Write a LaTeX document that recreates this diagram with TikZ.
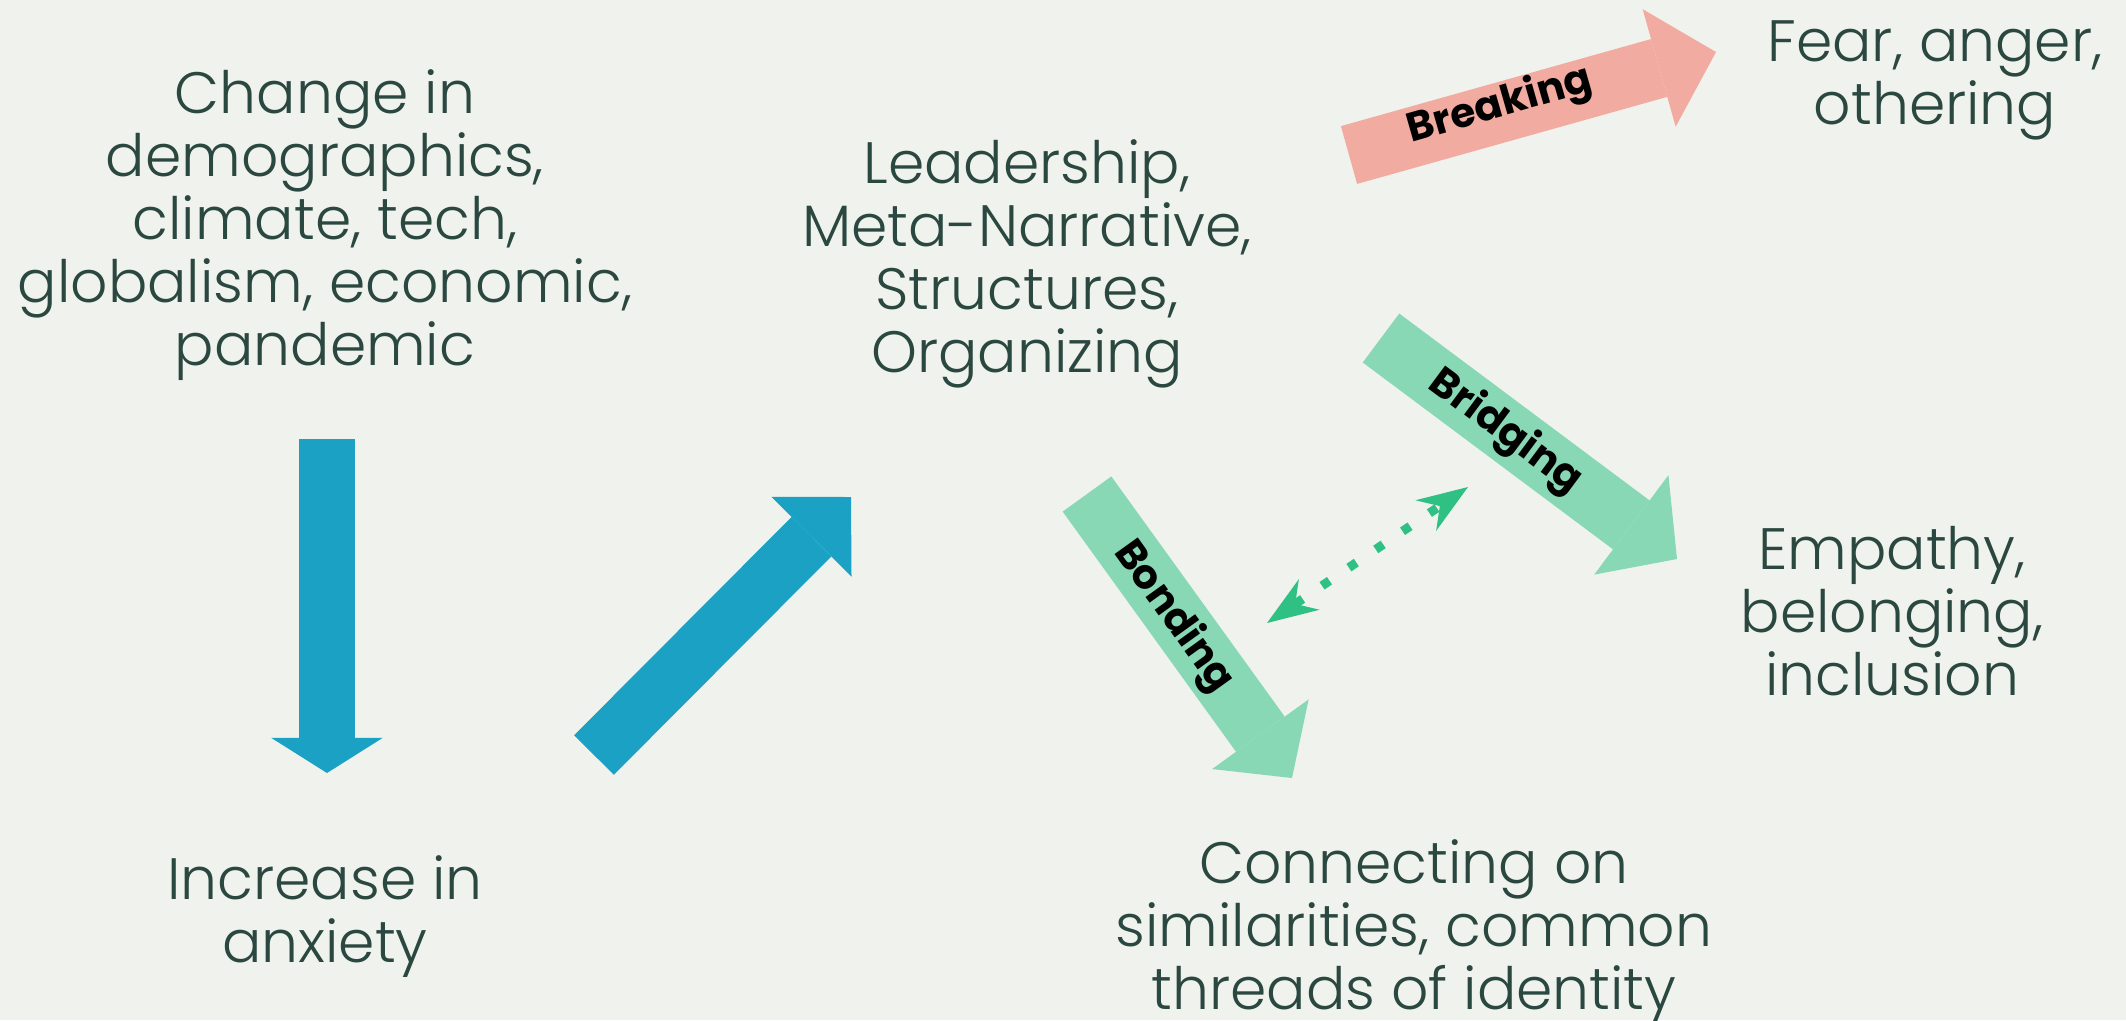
\documentclass[tikz,border=0pt]{standalone}
\usepackage{fontspec}
\setmainfont{Poppins Light}[BoldFont={Poppins Bold}]
\usetikzlibrary{arrows.meta}
\definecolor{bg}{HTML}{F0F2ED}
\definecolor{ink}{HTML}{2A4740}
\definecolor{sea}{HTML}{1BA1C3}
\definecolor{mint}{HTML}{88D8B5}
\definecolor{salmon}{HTML}{F2ABA0}
\definecolor{leaf}{HTML}{2FC183}
\begin{document}
\begin{tikzpicture}[x=0.01cm, y=-0.01cm,
	txt/.style={align=center, text=ink, inner sep=0pt, font=\fontsize{16.6pt}{0.63cm}\selectfont},
	tag/.style={inner sep=0pt, text=black, font=\bfseries\fontsize{11.6pt}{12pt}\selectfont},
	blockarrow/.style n args={4}{draw=#1, line width=#2, -{Triangle[length=#3, width=#4, line width=0pt]}},
	dotlink/.style={draw=leaf, line width=0.09cm, dash pattern=on 0.09cm off 0.234cm,
		{Stealth[length=0.51cm, width=0.37cm, inset=0.17cm, line width=0pt]}-{Stealth[length=0.51cm, width=0.37cm, inset=0.17cm, line width=0pt]}}]
	\path[fill=bg, use as bounding box] (0,0) rectangle (2126,1020);

	\node[txt] (change) at (325,225) {Change in\\demographics,\\climate, tech,\\globalism, economic,\\pandemic};
	\node[txt] (anxiety) at (325,917) {Increase in\\anxiety};
	\node[txt] (lead) at (1027,264) {Leadership,\\Meta-Narrative,\\Structures,\\Organizing};
	\node[txt] (fear) at (1935,80) {Fear, anger,\\othering};
	\node[txt] (empathy) at (1892,611) {Empathy,\\belonging,\\inclusion};
	\node[txt] (connect) at (1414,932) {Connecting on\\similarities, common\\threads of identity};

	\coordinate (down tail) at (327,439);
	\coordinate (down tip) at (327,773);
	\coordinate (up tail) at (594,755);
	\coordinate (up tip) at (851,497);
	\coordinate (break tail) at (1349,155);
	\coordinate (break tip) at (1716,52);
	\coordinate (bridge tail) at (1381,338);
	\coordinate (bridge tip) at (1677,559);
	\coordinate (bond tail) at (1087,494);
	\coordinate (bond tip) at (1292,778);
	\coordinate (link a) at (1267,623);
	\coordinate (link b) at (1468,487);

	\draw[blockarrow={sea}{0.56cm}{0.35cm}{1.11cm}] (down tail) -- (down tip);
	\draw[blockarrow={sea}{0.56cm}{0.56cm}{1.13cm}] (up tail) -- (up tip);
	\draw[blockarrow={salmon}{0.60cm}{0.59cm}{1.22cm}] (break tail) -- (break tip);
	\draw[blockarrow={mint}{0.61cm}{0.57cm}{1.24cm}] (bridge tail) -- (bridge tip);
	\draw[blockarrow={mint}{0.60cm}{0.54cm}{1.19cm}] (bond tail) -- (bond tip);
	\draw[dotlink] (link a) -- (link b);

	\node[tag, rotate=16] (breaking) at (1500,106) {Breaking};
	\node[tag, rotate=-36.6] (bridging) at (1505,432) {Bridging};
	\node[tag, rotate=-54.3] (bonding) at (1173,617) {Bonding};
\end{tikzpicture}
\end{document}
